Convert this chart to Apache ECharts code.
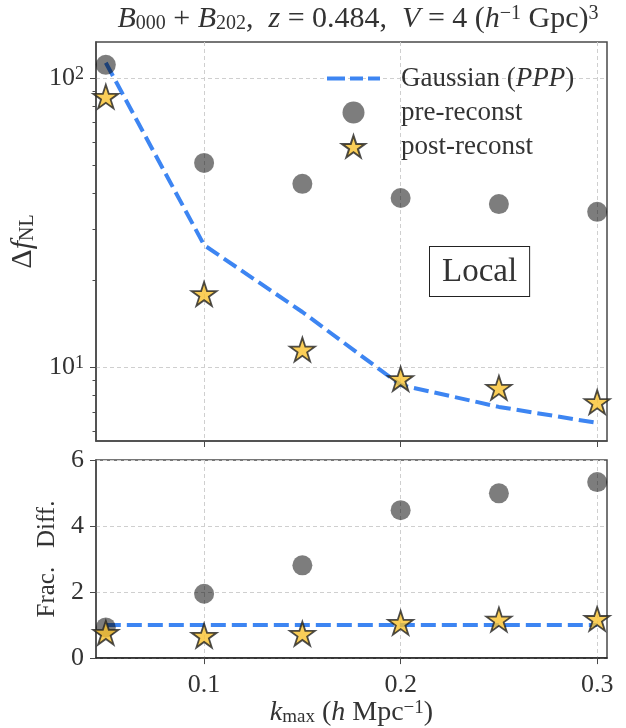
<!DOCTYPE html>
<html>
<head>
<meta charset="utf-8">
<script src="https://cdn.jsdelivr.net/npm/echarts@6/dist/echarts.min.js"></script>
<style>
  html, body { margin: 0; padding: 0; background: #fff; }
  #chart { width: 626px; height: 728px; }
</style>
</head>
<body>
<div id="chart"></div>
<script>
// values
var kmax = [0.05, 0.1, 0.15, 0.2, 0.25, 0.3];
var gaussian = [112.7, 26.4, 15.5, 8.67, 7.28, 6.41];
var preReconst = [110.9, 50.8, 43.0, 38.4, 36.6, 34.4];
var postReconst = [86.1, 17.9, 11.5, 9.1, 8.48, 7.57];
var fracGauss = [1, 1, 1, 1, 1, 1];
var fracPre = [0.93, 1.95, 2.81, 4.48, 4.99, 5.33];
var fracPost = [0.77, 0.68, 0.74, 1.07, 1.17, 1.19];
var xTicks = [0.1, 0.2, 0.3];
var logTicks = [10, 100];
var logMinor = [6, 7, 8, 9, 20, 30, 40, 50, 60, 70, 80, 90];

var SERIF = 'Liberation Serif';
var INK = '#333';
var FRAME = '#4a4a4a';
var BLUE = '#3d85f2';
var GOLD = '#f9c22e';
var GRAY = 'rgba(0,0,0,0.64)';
var DASH = [15, 6];

// 5 point star, like matplotlib '*'
function starPath() {
	var pts = [];
	for (var i = 0; i < 10; i++) {
		var r = i % 2 === 0 ? 1 : 0.382;
		var a = -Math.PI / 2 + i * Math.PI / 5;
		pts.push((r * Math.cos(a)).toFixed(4) + ' ' + (r * Math.sin(a)).toFixed(4));
	}
	return 'path://M' + pts.join(' L') + ' Z';
}
var STAR = starPath();
// dashed line sample for the legend
var DASH_ICON = 'path://M0 0 L18 0 L18 4 L0 4 Z M23 0 L36 0 L36 4 L23 4 Z M41 0 L53 0 L53 4 L41 4 Z';

function pairs(ys) {
	return kmax.map(function(k, i) { return [k, ys[i]]; });
}

function mathRich(size) {
	var s = Math.round(size * 0.68);
	return {
		i: { fontFamily: SERIF, fontStyle: 'italic', fontSize: size, color: INK },
		r: { fontFamily: SERIF, fontSize: size, color: INK },
		sub: { fontFamily: SERIF, fontSize: s, color: INK, verticalAlign: 'bottom', lineHeight: s },
		sup: { fontFamily: SERIF, fontSize: s, color: INK, verticalAlign: 'top', lineHeight: s }
	};
}

var chart = echarts.init(document.getElementById('chart'));

var option = {
	animation: false,
	backgroundColor: '#fff',
	grid: [
		{ left: 96, right: 19, top: 42, height: 399, show: true, borderColor: FRAME, borderWidth: 1.5 },
		{ left: 96, right: 19, top: 460, height: 199, show: true, borderColor: FRAME, borderWidth: 1.5 }
	],
	graphic: [
		{
			type: 'text', x: 358, y: 19,
			style: {
				text: '{i|B}{sub|000} + {i|B}{sub|202},  {i|z} = 0.484,  {i|V} = 4 ({i|h}{sup|−1} Gpc){sup|3}',
				font: '30px ' + SERIF, fill: INK, rich: mathRich(30),
				align: 'center', verticalAlign: 'middle'
			}
		},
		{
			type: 'text', left: 429, top: 246,
			style: {
				text: 'Local', font: '33px ' + SERIF, fill: INK,
				padding: [9, 12, 7, 12], borderColor: '#222', borderWidth: 1, backgroundColor: '#fff'
			}
		}
	],
	legend: {
		left: 322, top: 60, orient: 'vertical',
		itemWidth: 53, itemHeight: 22, itemGap: 7,
		data: [
			{ name: 'Gaussian', icon: DASH_ICON },
			{ name: 'pre-reconst' },
			{ name: 'post-reconst' }
		],
		textStyle: {
			fontFamily: SERIF, fontSize: 27, color: INK, padding: [0, 0, 0, 16],
			rich: { i: { fontFamily: SERIF, fontStyle: 'italic', fontSize: 27, color: INK } }
		},
		formatter: function(name) {
			return name === 'Gaussian' ? 'Gaussian ({i|PPP})' : name;
		}
	},
	xAxis: [
		{
			type: 'value', gridIndex: 0, min: 0.045, max: 0.305,
			axisLine: { lineStyle: { color: FRAME, width: 1.5 } },
			axisTick: { inside: false, length: 6, customValues: xTicks, lineStyle: { color: FRAME } },
			axisLabel: { show: false },
			splitLine: { show: true, lineStyle: { color: '#cfcfcf', type: [4, 3] } }
		},
		{
			type: 'value', gridIndex: 1, min: 0.045, max: 0.305,
			axisLine: { lineStyle: { color: '#222', width: 1.5 } },
			axisTick: { inside: false, length: 6, customValues: xTicks, lineStyle: { color: FRAME } },
			axisLabel: {
				customValues: xTicks, margin: 14, fontFamily: SERIF, fontSize: 26, color: INK,
				formatter: function(v) { return v.toFixed(1); }
			},
			splitLine: { show: true, lineStyle: { color: '#cfcfcf', type: [4, 3] } },
			name: '{i|k}{sub|max} ({i|h} Mpc{sup|−1})',
			nameLocation: 'middle', nameGap: 38,
			nameTextStyle: { fontFamily: SERIF, fontSize: 28, color: INK, rich: mathRich(28) }
		}
	],
	yAxis: [
		{
			type: 'log', logBase: 10, gridIndex: 0, min: 5.55, max: 133,
			axisLine: { show: true, lineStyle: { color: FRAME, width: 1.5 } },
			axisTick: { show: true, inside: false, length: 6, customValues: logTicks, lineStyle: { color: FRAME } },
			axisLabel: {
				customValues: logTicks, margin: 12, fontFamily: SERIF, fontSize: 26, color: INK,
				formatter: function(v) { return '{r|10}{sup|' + Math.round(Math.log10(v)) + '}'; },
				rich: mathRich(26)
			},
			splitLine: { show: true, lineStyle: { color: '#cfcfcf', type: [4, 3] } },
			name: '{r|Δ}{i|f}{sub|NL}',
			nameLocation: 'middle', nameRotate: 90, nameGap: 50,
			nameTextStyle: { fontFamily: SERIF, fontSize: 30, color: INK, rich: mathRich(30) }
		},
		{
			// minor ticks of the log axis
			type: 'log', logBase: 10, gridIndex: 0, min: 5.55, max: 133, position: 'left',
			axisLine: { show: false },
			axisTick: { show: true, inside: false, length: 3.5, customValues: logMinor, lineStyle: { color: FRAME } },
			axisLabel: { show: false },
			splitLine: { show: false }
		},
		{
			type: 'value', gridIndex: 1, min: 0, max: 6, interval: 2,
			axisLine: { show: true, lineStyle: { color: FRAME, width: 1.5 } },
			axisTick: { show: true, inside: false, length: 6, lineStyle: { color: FRAME } },
			axisLabel: { margin: 12, fontFamily: SERIF, fontSize: 26, color: INK },
			splitLine: { show: true, lineStyle: { color: '#cfcfcf', type: [4, 3] } },
			name: 'Frac.   Diff.',
			nameLocation: 'middle', nameRotate: 90, nameGap: 36,
			nameTextStyle: { fontFamily: SERIF, fontSize: 25, color: INK }
		}
	],
	series: [
		{
			name: 'Gaussian', type: 'line', xAxisIndex: 0, yAxisIndex: 0,
			data: pairs(gaussian), symbol: 'none', z: 2,
			lineStyle: { color: BLUE, width: 4, type: DASH },
			itemStyle: { color: BLUE }
		},
		{
			name: 'pre-reconst', type: 'scatter', xAxisIndex: 0, yAxisIndex: 0,
			data: pairs(preReconst), symbol: 'circle', symbolSize: 20, z: 3,
			itemStyle: { color: GRAY }
		},
		{
			name: 'post-reconst', type: 'scatter', xAxisIndex: 0, yAxisIndex: 0,
			data: pairs(postReconst), symbol: STAR, symbolSize: 25, symbolKeepAspect: true, z: 4,
			itemStyle: { color: GOLD, borderColor: '#222', borderWidth: 1.8 }
		},
		{
			name: 'frac-gauss', type: 'line', xAxisIndex: 1, yAxisIndex: 2,
			data: pairs(fracGauss), symbol: 'none', z: 2,
			lineStyle: { color: BLUE, width: 4, type: DASH }
		},
		{
			name: 'frac-pre', type: 'scatter', xAxisIndex: 1, yAxisIndex: 2,
			data: pairs(fracPre), symbol: 'circle', symbolSize: 20, z: 3,
			itemStyle: { color: GRAY }
		},
		{
			name: 'frac-post', type: 'scatter', xAxisIndex: 1, yAxisIndex: 2,
			data: pairs(fracPost), symbol: STAR, symbolSize: 25, symbolKeepAspect: true, z: 4,
			itemStyle: { color: GOLD, borderColor: '#222', borderWidth: 1.8 }
		}
	]
};

chart.setOption(option);
</script>
</body>
</html>
